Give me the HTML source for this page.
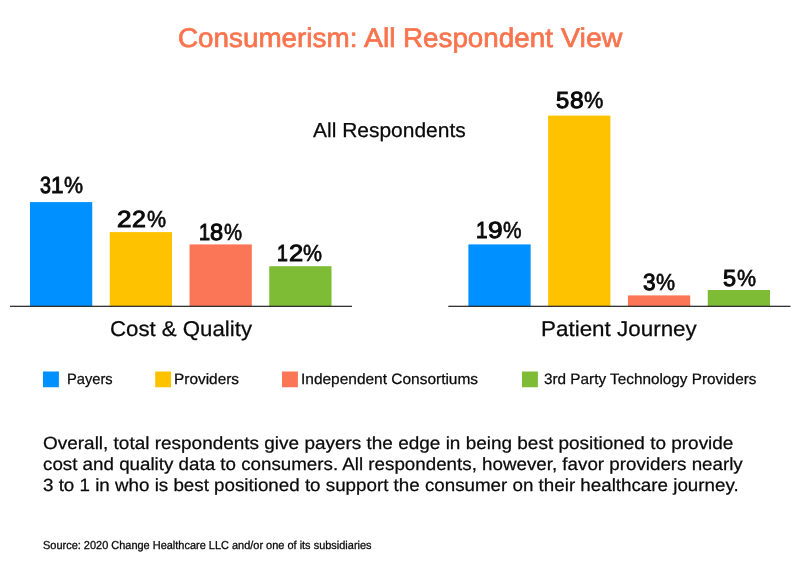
<!DOCTYPE html>
<html><head><meta charset="utf-8">
<title>Consumerism: All Respondent View</title>
<style>
html,body{margin:0;padding:0;background:#fff;}
body{width:800px;height:570px;position:relative;overflow:hidden;font-family:"Liberation Sans",sans-serif;color:#0a0a0a;}
.t{text-rendering:geometricPrecision;position:absolute;white-space:nowrap;line-height:1;transform-origin:0 0;}
svg{position:absolute;left:0;top:0;}
.g{margin:0;padding:0;font-size:0;font-weight:normal;line-height:0;}
span.t{display:block;}
</style></head><body>

<svg width="800" height="570" viewBox="0 0 800 570">
<rect x="30.00" y="202.10" width="62.25" height="104.30" fill="#0090ff"/>
<rect x="109.75" y="232.10" width="62.25" height="74.30" fill="#ffc200"/>
<rect x="189.55" y="244.40" width="62.25" height="62.00" fill="#fb7656"/>
<rect x="269.25" y="266.20" width="62.25" height="40.20" fill="#7fbc35"/>
<rect x="468.40" y="244.40" width="62.25" height="62.00" fill="#0090ff"/>
<rect x="548.15" y="115.60" width="62.25" height="190.80" fill="#ffc200"/>
<rect x="627.95" y="295.40" width="62.25" height="11.00" fill="#fb7656"/>
<rect x="707.75" y="290.00" width="62.25" height="16.40" fill="#7fbc35"/>
<rect x="10" y="305.7" width="342" height="1.25" fill="#2a2a2a"/>
<rect x="448.3" y="305.7" width="342.2" height="1.25" fill="#2a2a2a"/>
<rect x="43.00" y="371.5" width="15.9" height="15.75" fill="#0090ff"/>
<rect x="155.20" y="371.5" width="15.9" height="15.75" fill="#ffc200"/>
<rect x="282.00" y="371.5" width="15.9" height="15.75" fill="#fb7656"/>
<rect x="522.00" y="371.5" width="15.9" height="15.75" fill="#7fbc35"/>
</svg>
<h1 class="g title">
<span id="t1" class="t" style="left:178.12px;top:24.64px;font-size:27px;transform:scaleX(1.0307);color:#f9744e;-webkit-text-stroke:0.7px #f9744e;">Consumerism:</span> 
<span id="t2" class="t" style="left:363.75px;top:24.64px;font-size:27px;transform:scaleX(1.0522);color:#f9744e;-webkit-text-stroke:0.7px #f9744e;">All</span> 
<span id="t3" class="t" style="left:403.25px;top:24.64px;font-size:27px;transform:scaleX(1.0292);color:#f9744e;-webkit-text-stroke:0.7px #f9744e;">Respondent</span> 
<span id="t4" class="t" style="left:560.65px;top:24.64px;font-size:27px;transform:scaleX(1.0587);color:#f9744e;-webkit-text-stroke:0.7px #f9744e;">View</span> 
</h1>
<div id="allresp" class="t" style="left:313.00px;top:120.82px;font-size:20.3px;transform:scaleX(1.0340);-webkit-text-stroke:0.25px #0a0a0a;">All Respondents</div> 
<div class="g val1">
<span id="v1a" class="t" style="left:40.00px;top:173.89px;font-size:23.4px;transform:scaleX(0.8410);-webkit-text-stroke:1.0px #0a0a0a;">3</span>
<span id="v1b" class="t" style="left:50.85px;top:173.89px;font-size:23.4px;transform:scaleX(0.9592);-webkit-text-stroke:1.0px #0a0a0a;">1</span>
<span id="v1p" class="t" style="left:63.50px;top:173.81px;font-size:23.2px;transform:scaleX(0.9257);-webkit-text-stroke:0.6px #0a0a0a;">%</span>
</div>
<div class="g val2">
<span id="v2a" class="t" style="left:116.80px;top:207.69px;font-size:23.4px;transform:scaleX(1.1135);-webkit-text-stroke:1.0px #0a0a0a;">2</span>
<span id="v2b" class="t" style="left:132.00px;top:207.69px;font-size:23.4px;transform:scaleX(1.0656);-webkit-text-stroke:1.0px #0a0a0a;">2</span>
<span id="v2p" class="t" style="left:146.85px;top:207.61px;font-size:23.2px;transform:scaleX(0.9257);-webkit-text-stroke:0.6px #0a0a0a;">%</span>
</div>
<div class="g val3">
<span id="v3a" class="t" style="left:199.00px;top:221.09px;font-size:23.4px;transform:scaleX(0.8548);-webkit-text-stroke:1.0px #0a0a0a;">1</span>
<span id="v3b" class="t" style="left:209.60px;top:221.09px;font-size:23.4px;transform:scaleX(1.0084);-webkit-text-stroke:1.0px #0a0a0a;">8</span>
<span id="v3p" class="t" style="left:223.85px;top:221.01px;font-size:23.2px;transform:scaleX(0.8769);-webkit-text-stroke:0.6px #0a0a0a;">%</span>
</div>
<div class="g val4">
<span id="v4a" class="t" style="left:276.90px;top:242.49px;font-size:23.4px;transform:scaleX(0.8366);-webkit-text-stroke:1.0px #0a0a0a;">1</span>
<span id="v4b" class="t" style="left:288.80px;top:242.49px;font-size:23.4px;transform:scaleX(1.0896);-webkit-text-stroke:1.0px #0a0a0a;">2</span>
<span id="v4p" class="t" style="left:302.60px;top:242.41px;font-size:23.2px;transform:scaleX(0.9231);-webkit-text-stroke:0.6px #0a0a0a;">%</span>
</div>
<div class="g val5">
<span id="v5a" class="t" style="left:475.75px;top:219.09px;font-size:23.4px;transform:scaleX(0.8864);-webkit-text-stroke:1.0px #0a0a0a;">1</span>
<span id="v5b" class="t" style="left:488.25px;top:219.09px;font-size:23.4px;transform:scaleX(1.1217);-webkit-text-stroke:1.0px #0a0a0a;">9</span>
<span id="v5p" class="t" style="left:503.05px;top:219.01px;font-size:23.2px;transform:scaleX(0.9001);-webkit-text-stroke:0.6px #0a0a0a;">%</span>
</div>
<div class="g val6">
<span id="v6a" class="t" style="left:556.08px;top:89.49px;font-size:23.4px;transform:scaleX(1.0168);-webkit-text-stroke:1.0px #0a0a0a;">5</span>
<span id="v6b" class="t" style="left:570.05px;top:89.49px;font-size:23.4px;transform:scaleX(1.0459);-webkit-text-stroke:1.0px #0a0a0a;">8</span>
<span id="v6p" class="t" style="left:583.75px;top:89.41px;font-size:23.2px;transform:scaleX(0.9385);-webkit-text-stroke:0.6px #0a0a0a;">%</span>
</div>
<div class="g val7">
<span id="v7d" class="t" style="left:642.80px;top:271.09px;font-size:23.4px;transform:scaleX(0.9676);-webkit-text-stroke:1.0px #0a0a0a;">3</span>
<span id="v7p" class="t" style="left:655.80px;top:271.01px;font-size:23.2px;transform:scaleX(0.9257);-webkit-text-stroke:0.6px #0a0a0a;">%</span>
</div>
<div class="g val8">
<span id="v8d" class="t" style="left:723.05px;top:267.09px;font-size:23.4px;transform:scaleX(1.0047);-webkit-text-stroke:1.0px #0a0a0a;">5</span>
<span id="v8p" class="t" style="left:736.65px;top:267.01px;font-size:23.2px;transform:scaleX(0.9257);-webkit-text-stroke:0.6px #0a0a0a;">%</span>
</div>
<div id="cq" class="t" style="left:109.90px;top:319.28px;font-size:21.4px;transform:scaleX(1.0386);-webkit-text-stroke:0.25px #0a0a0a;">Cost &amp; Quality</div> 
<div id="pj" class="t" style="left:541.10px;top:319.28px;font-size:21.4px;transform:scaleX(1.0480);-webkit-text-stroke:0.25px #0a0a0a;">Patient Journey</div> 
<div class="g legend">
<span id="l1" class="t" style="left:67.17px;top:371.90px;font-size:15px;transform:scaleX(0.9790);-webkit-text-stroke:0.25px #0a0a0a;">Payers</span> 
<span id="l2" class="t" style="left:174.05px;top:371.90px;font-size:15px;transform:scaleX(1.0266);-webkit-text-stroke:0.25px #0a0a0a;">Providers</span> 
<span id="l3" class="t" style="left:301.35px;top:371.90px;font-size:15px;transform:scaleX(1.0309);-webkit-text-stroke:0.25px #0a0a0a;">Independent Consortiums</span> 
<span id="l4" class="t" style="left:544.20px;top:371.90px;font-size:15px;transform:scaleX(1.0203);-webkit-text-stroke:0.25px #0a0a0a;">3rd Party Technology Providers</span> 
</div>
<p class="g para">
<span id="p1" class="t" style="left:43.00px;top:434.62px;font-size:17.7px;transform:scaleX(1.0720);-webkit-text-stroke:0.25px #0a0a0a;">Overall, total respondents give payers the edge in being best positioned to provide</span> 
<span id="p2" class="t" style="left:43.00px;top:456.02px;font-size:17.7px;transform:scaleX(1.0607);-webkit-text-stroke:0.25px #0a0a0a;">cost and quality data to consumers. All respondents, however, favor providers nearly</span> 
<span id="p3" class="t" style="left:42.75px;top:477.42px;font-size:17.7px;transform:scaleX(1.0612);-webkit-text-stroke:0.25px #0a0a0a;">3 to 1 in who is best positioned to support the consumer on their healthcare journey.</span> 
</p>
<div id="src" class="t" style="left:43.35px;top:540.67px;font-size:11.5px;transform:scaleX(0.9535);-webkit-text-stroke:0.3px #0a0a0a;">Source: 2020 Change Healthcare LLC and/or one of its subsidiaries</div> 
</body></html>
